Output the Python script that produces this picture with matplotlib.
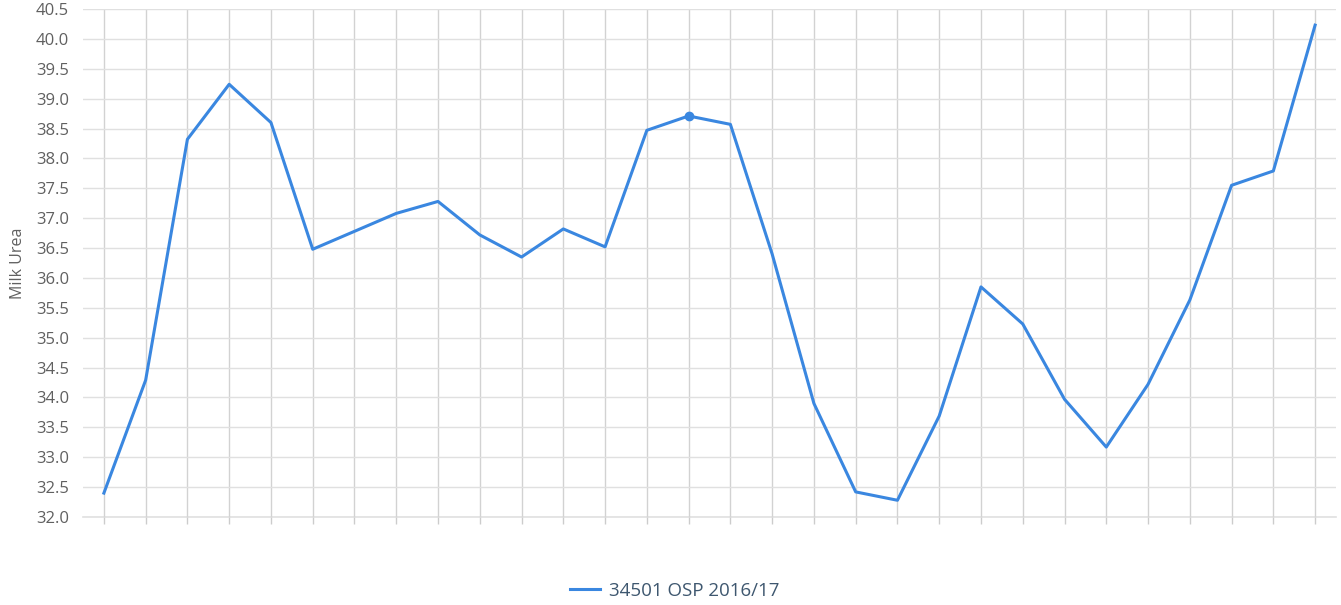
import matplotlib
matplotlib.use("Agg")
import matplotlib.pyplot as plt
import numpy as np

plt.rcParams['font.family'] = ['Open Sans', 'DejaVu Sans']

series_name = "34501 OSP 2016/17"
y_label = "Milk Urea"
values = [32.40, 34.29, 38.32, 39.24, 38.60, 36.48, 36.78, 37.08, 37.28, 36.72,
          36.35, 36.82, 36.52, 38.47, 38.71, 38.57, 36.40, 33.90, 32.42, 32.28,
          33.69, 35.85, 35.23, 33.97, 33.17, 34.22, 35.63, 37.55, 37.79, 40.23]
highlight_index = 14
y_ticks = np.arange(32.0, 40.51, 0.5)

W, H = 1341, 605
fig = plt.figure(figsize=(W / 100, H / 100), dpi=100)
ax = fig.add_axes([83 / W, 1 - 517 / H, (1336 - 83) / W, (517 - 9) / H])

x = np.arange(len(values))
line_color = '#3a87e0'
ax.plot(x, values, color=line_color, linewidth=2.2, solid_joinstyle='round', zorder=3)
ax.plot(x[highlight_index], values[highlight_index], 'o', color=line_color,
        markersize=6, zorder=4)

ax.set_xlim(-0.5, len(values) - 0.5)
ax.set_ylim(32.0, 40.5)
ax.set_yticks(y_ticks)
ax.set_yticklabels([f"{v:.1f}" for v in y_ticks], fontsize=12, color='#606060')
ax.set_xticks(x)
ax.set_xticklabels([])
ax.tick_params(axis='y', length=0, pad=10)
ax.tick_params(axis='x', length=5, color='#cccccc', width=1)

ax.grid(True, axis='y', color='#e0e0e0', linewidth=1)
ax.grid(True, axis='x', color='#d2d2d2', linewidth=1)
ax.axhline(32.0, color='#e0e0e0', linewidth=1.2, clip_on=False, zorder=0.5)
ax.set_axisbelow(True)
for s in ax.spines.values():
    s.set_visible(False)

ax.set_ylabel(y_label, fontsize=11.5, color='#606060')
ax.yaxis.set_label_coords(-57 / (1336 - 83), 0.5)

fig.legend([plt.Line2D([0], [0], color=line_color, linewidth=2.2)], [series_name],
           loc='center', bbox_to_anchor=(675 / W, 1 - 591 / H), frameon=False,
           fontsize=13.5, handlelength=1.6, handletextpad=0.5,
           labelcolor='#3e576f')

fig.savefig('out.png', dpi=100)
